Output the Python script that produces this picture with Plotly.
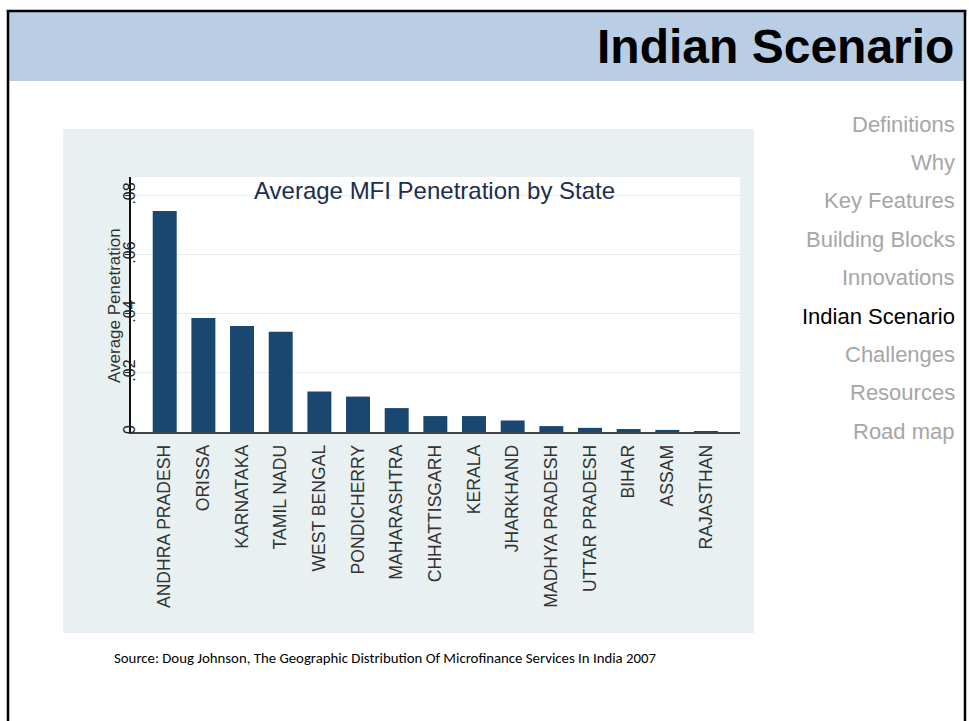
import plotly.graph_objects as go

W, H = 969, 721

# ---- data ----
states = ["ANDHRA PRADESH", "ORISSA", "KARNATAKA", "TAMIL NADU", "WEST BENGAL",
          "PONDICHERRY", "MAHARASHTRA", "CHHATTISGARH", "KERALA", "JHARKHAND",
          "MADHYA PRADESH", "UTTAR PRADESH", "BIHAR", "ASSAM", "RAJASTHAN"]
penetration = [0.0749, 0.0386, 0.0359, 0.0340, 0.0137,
               0.0120, 0.0081, 0.0054, 0.0054, 0.0039,
               0.0020, 0.0014, 0.0010, 0.0007, 0.0003]
y_tick_vals = [0, 0.02, 0.04, 0.06, 0.08]
y_tick_text = ["0", ".02", ".04", ".06", ".08"]
menu_items = ["Definitions", "Why", "Key Features", "Building Blocks", "Innovations",
              "Indian Scenario", "Challenges", "Resources", "Road map"]
active_item = "Indian Scenario"
slide_title = "Indian Scenario"
chart_title = "Average MFI Penetration by State"
y_title = "Average Penetration"
source_text = "Source: Doug Johnson, The Geographic Distribution Of Microfinance Services In India 2007"


def px(x):
    return x / W


def py(y):
    return 1 - y / H


ARIAL = "Liberation Sans, Arial, sans-serif"

fig = go.Figure()
fig.add_trace(go.Bar(
    x=list(range(len(states))), y=penetration,
    marker=dict(color="#1a476f", line=dict(width=0)),
    width=0.62, hoverinfo="x+y",
))

shapes = [
    # header band
    dict(type="rect", xref="paper", yref="paper", x0=px(9), x1=px(964), y0=py(81), y1=py(12),
         fillcolor="#b9cde5", line=dict(width=0), layer="below"),
    # chart panel
    dict(type="rect", xref="paper", yref="paper", x0=px(63), x1=px(754), y0=py(633), y1=py(129),
         fillcolor="#e9f0f2", line=dict(width=0), layer="below"),
    # white plot region
    dict(type="rect", xref="paper", yref="paper", x0=px(130.5), x1=px(740), y0=py(432), y1=py(177),
         fillcolor="#ffffff", line=dict(width=0), layer="below"),
    # slide border
    dict(type="line", xref="paper", yref="paper", x0=px(8), x1=px(8), y0=py(721), y1=py(10),
         line=dict(color="#000000", width=2.5)),
    dict(type="line", xref="paper", yref="paper", x0=px(6.8), x1=px(966.2), y0=py(11), y1=py(11),
         line=dict(color="#000000", width=2.5)),
    dict(type="line", xref="paper", yref="paper", x0=px(965), x1=px(965), y0=py(721), y1=py(10),
         line=dict(color="#000000", width=2.5)),
]

annotations = [
    dict(text=slide_title, xref="paper", yref="paper", x=px(956), y=py(47),
         xanchor="right", yanchor="middle", showarrow=False,
         font=dict(family=ARIAL, size=48, color="#000000", weight="bold")),
    dict(text=chart_title, xref="paper", yref="paper", x=px(434), y=py(190),
         xanchor="center", yanchor="middle", showarrow=False,
         font=dict(family=ARIAL, size=24, color="#1c2d50")),
    dict(text=y_title, xref="paper", yref="paper", x=px(114), y=py(306),
         xanchor="center", yanchor="middle", showarrow=False, textangle=-90,
         font=dict(family=ARIAL, size=17, color="#333333")),
    dict(text=source_text, xref="paper", yref="paper", x=px(112), y=py(658),
         xanchor="left", yanchor="middle", showarrow=False,
         font=dict(family="Carlito, Calibri, Liberation Sans, sans-serif", size=14.8, color="#000000")),
]

menu_y0, menu_step = 124, 38.4
for i, item in enumerate(menu_items):
    annotations.append(dict(
        text=item, xref="paper", yref="paper", x=px(957), y=py(menu_y0 + i * menu_step),
        xanchor="right", yanchor="middle", showarrow=False,
        font=dict(family=ARIAL, size=22,
                  color="#000000" if item == active_item else "#a6a6a6")))

fig.update_layout(
    width=W, height=H,
    margin=dict(l=0, r=0, t=0, b=0),
    paper_bgcolor="#ffffff", plot_bgcolor="rgba(0,0,0,0)",
    showlegend=False,
    shapes=shapes, annotations=annotations,
    bargap=0.38,
    xaxis=dict(
        domain=[px(130.5), px(740)],
        range=[-0.885, 14.88],
        tickmode="array", tickvals=list(range(len(states))), ticktext=states,
        tickangle=-90, ticks="", ticklabelstandoff=4,
        tickfont=dict(family=ARIAL, size=17.6, color="#333333"),
        showgrid=False, zeroline=False,
        showline=True, linecolor="#444444", linewidth=1.5,
        automargin=False, fixedrange=True,
    ),
    yaxis=dict(
        domain=[py(432), py(177)],
        range=[0, 0.0864],
        tickmode="array", tickvals=y_tick_vals, ticktext=y_tick_text,
        tickangle=-90, ticks="outside", ticklen=4, tickcolor="#222222",
        ticklabelstandoff=-17,
        tickfont=dict(family=ARIAL, size=16, color="#222222"),
        showgrid=True, gridcolor="#e6eef0", gridwidth=1,
        zeroline=False,
        showline=True, linecolor="#111111", linewidth=1.5,
        automargin=False, fixedrange=True,
    ),
)

fig.write_html("out.html")
